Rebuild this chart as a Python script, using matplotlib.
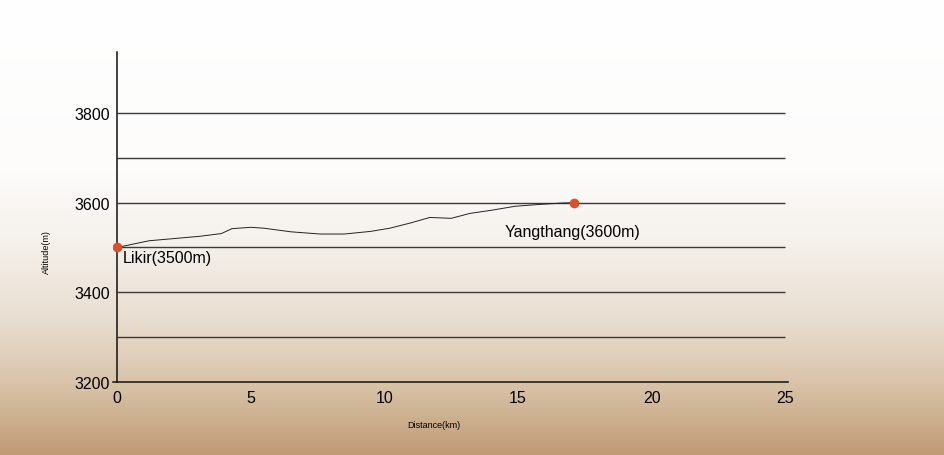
import numpy as np
import matplotlib.pyplot as plt
from matplotlib import rcParams
from matplotlib.colors import LinearSegmentedColormap

rcParams['font.family'] = 'sans-serif'
rcParams['font.sans-serif'] = ['Liberation Sans', 'DejaVu Sans']

# elevation profile Likir -> Yangthang
dist_km = [0, 1.2, 3.1, 3.9, 4.3, 5.0, 5.5, 6.5, 7.6, 8.5, 9.5, 10.2, 11.0,
           11.7, 12.5, 13.2, 14.0, 14.9, 15.8, 16.6, 17.1]
alt_m = [3500, 3515, 3525, 3531, 3542, 3545, 3543, 3535, 3530, 3530, 3536,
         3543, 3555, 3567, 3565, 3576, 3583, 3592, 3596, 3599, 3600]

places = ['Likir(3500m)', 'Yangthang(3600m)']
place_km = [0, 17.1]
place_alt = [3500, 3600]

yticks = [3200, 3400, 3600, 3800]
xticks = [0, 5, 10, 15, 20, 25]
grid_alt = [3300, 3400, 3500, 3600, 3700, 3800]

fig = plt.figure(figsize=(9.44, 4.56), dpi=100)

# paper-like background: white on top fading to tan at the bottom
bg = fig.add_axes([0, 0, 1, 1], zorder=-10)
cmap = LinearSegmentedColormap.from_list('paper', [
    (0.0, '#ffffff'), (0.38, '#fdfcfb'), (0.55, '#f4efe9'),
    (0.70, '#e9ded1'), (0.85, '#d8c2a7'), (1.0, '#c09b75')])
grad = np.linspace(0, 1, 256)[:, None] * np.ones((1, 64))
bg.imshow(grad, aspect='auto', cmap=cmap, extent=[0, 1, 0, 1], origin='upper')
bg.set_axis_off()

ax = fig.add_axes([113 / 944, 73 / 456, 675 / 944, 330 / 456])
ax.set_facecolor('none')

for g in grid_alt:
    ax.hlines(g, 0, 25, color='#3a3a3a', lw=1.0)

ax.plot(dist_km, alt_m, color='#222222', lw=0.7)
ax.plot(place_km, place_alt, 'o', color='#d9512c', ms=6, zorder=5)

ax.text(0.2, 3477, places[0], fontsize=11.5, va='center', ha='left')
ax.text(14.5, 3535, places[1], fontsize=11.5, va='center', ha='left')

ax.set_xlim(-0.15, 25.1)
ax.set_ylim(3200, 3936)
ax.spines['left'].set_position(('data', 0))
ax.spines['top'].set_visible(False)
ax.spines['right'].set_visible(False)
for s in ['left', 'bottom']:
    ax.spines[s].set_linewidth(1.1)
    ax.spines[s].set_color('#111111')

ax.set_xticks(xticks)
ax.set_yticks(yticks)
ax.tick_params(length=0, labelsize=11.5)
ax.tick_params(axis='x', pad=6)
ax.tick_params(axis='y', pad=5)

fig.text(46 / 944, 1 - 252 / 456, 'Altitude(m)', rotation=90, fontsize=6.5,
         ha='center', va='center')
fig.text(434 / 944, 1 - 426 / 456, 'Distance(km)', fontsize=6.5,
         ha='center', va='center')

fig.savefig('out.png', dpi=100)
